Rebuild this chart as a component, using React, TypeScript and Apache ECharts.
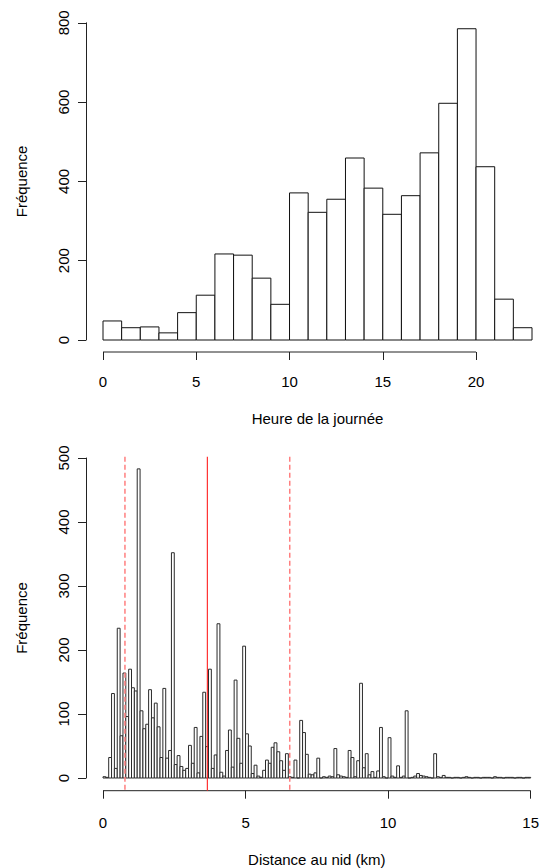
import React, { useEffect, useRef } from "react";
import * as echarts from "echarts";

// ---- Data: top histogram (hour of day, 1-hour bins starting at 0) ----
const hourCounts = [48, 31, 33, 18, 69, 113, 217, 214, 156, 90, 371, 322, 355, 459, 383, 317, 364, 472, 597, 785, 437, 103, 31];
const hourBinWidth = 1;
const hourTicks = [0, 5, 10, 15, 20];
const freqTicksTop = [0, 200, 400, 600, 800];

// ---- Data: bottom histogram (distance to nest, 0.1 km bins starting at 0) ----
const distanceCounts = [
  2, 1, 32, 132, 15, 234, 66, 164, 96, 170,
  141, 136, 483, 105, 77, 84, 138, 94, 117, 80,
  32, 140, 31, 43, 352, 21, 35, 18, 12, 15,
  51, 23, 79, 8, 65, 134, 49, 170, 15, 36,
  241, 9, 3, 43, 75, 17, 153, 62, 23, 206,
  69, 50, 7, 20, 3, 1, 12, 28, 23, 48,
  55, 41, 27, 12, 38, 2, 1, 28, 0, 90,
  71, 37, 6, 5, 8, 31, 0, 2, 1, 3,
  2, 46, 5, 3, 2, 1, 43, 32, 2, 27,
  148, 16, 38, 5, 10, 1, 11, 79, 2, 0,
  63, 3, 1, 19, 1, 3, 105, 0, 1, 3,
  7, 4, 3, 2, 1, 0, 38, 2, 1, 4,
  1, 1, 0, 1, 1, 0, 1, 2, 1, 0,
  1, 1, 0, 1, 1, 1, 0, 2, 1, 1,
  0, 1, 1, 1, 0, 1, 1, 0, 1, 1,
];
const distanceBinWidth = 0.1;
const distanceTicks = [0, 5, 10, 15];
const freqTicksBottom = [0, 100, 200, 300, 400, 500];
const distanceDashedLines = [0.77, 6.55];
const distanceSolidLines = [3.66];

const FONT = "'Liberation Sans', Arial, Helvetica, sans-serif";
const TEXT = { fontSize: 15, color: "#000", fontFamily: FONT };
const AXIS_COLOR = "#222";

const histRender = (stroke: string) => (_params: any, api: any) => {
  const x0 = api.value(0);
  const x1 = api.value(1);
  const c = api.value(2);
  const p0 = api.coord([x0, c]);
  const p1 = api.coord([x1, 0]);
  return {
    type: "rect",
    shape: { x: p0[0], y: p0[1], width: p1[0] - p0[0], height: p1[1] - p0[1] },
    style: { fill: "#fff", stroke, lineWidth: 1 },
  };
};

const axisLineRender = (offset: number) => (_params: any, api: any) => {
  const a = api.coord([api.value(0), 0]);
  const b = api.coord([api.value(1), 0]);
  return {
    type: "line",
    shape: { x1: a[0], y1: a[1] + offset, x2: b[0], y2: b[1] + offset },
    style: { stroke: AXIS_COLOR, lineWidth: 1 },
  };
};

const vLineRender = (dashed: boolean, bottomExtra: number) => (params: any, api: any) => {
  const cs = params.coordSys;
  const p = api.coord([api.value(0), 0]);
  return {
    type: "line",
    shape: { x1: p[0], y1: cs.y - 1.3, x2: p[0], y2: cs.y + cs.height + bottomExtra },
    style: dashed
      ? { stroke: "#ff7f7f", lineWidth: 1.5, lineDash: [5, 3] }
      : { stroke: "#ff2020", lineWidth: 1.1 },
  };
};

const X_OFF_TOP = 12;
const X_OFF_BOTTOM = 12.7;
const Y_OFF = 17;

function makeXAxis(
  gridIndex: number,
  max: number,
  ticks: number[],
  name: string,
  offset: number,
  labelMargin: number,
  nameGap: number
) {
  return {
    gridIndex,
    type: "value",
    min: 0,
    max,
    offset,
    // line itself drawn by a custom series (R style: spans first to last tick only)
    axisLine: { show: true, onZero: false, lineStyle: { color: "rgba(0,0,0,0)", width: 1 } },
    axisTick: { show: true, length: 8, customValues: ticks, lineStyle: { color: AXIS_COLOR, width: 1 } },
    axisLabel: { show: true, customValues: ticks, margin: labelMargin, ...TEXT },
    splitLine: { show: false },
    name,
    nameLocation: "middle",
    nameGap,
    nameTextStyle: { ...TEXT },
  };
}

function makeYAxis(gridIndex: number, max: number, ticks: number[]) {
  return {
    gridIndex,
    type: "value",
    min: 0,
    max,
    offset: Y_OFF,
    axisLine: { show: true, onZero: false, lineStyle: { color: AXIS_COLOR, width: 1 } },
    axisTick: { show: true, length: 8, customValues: ticks, lineStyle: { color: AXIS_COLOR, width: 1 } },
    axisLabel: { show: true, customValues: ticks, rotate: 90, margin: 15, ...TEXT },
    splitLine: { show: false },
    name: "Fréquence",
    nameLocation: "middle",
    nameRotate: 90,
    nameGap: 57,
    nameTextStyle: { ...TEXT },
  };
}

export default function App() {
  const ref = useRef<HTMLDivElement>(null);

  useEffect(() => {
    if (!ref.current) return;
    const chart = echarts.init(ref.current, null, { renderer: "svg" });

    const hourData = hourCounts.map((c, i) => [i * hourBinWidth, (i + 1) * hourBinWidth, c]);
    const distData = distanceCounts.map((c, i) => [
      +(i * distanceBinWidth).toFixed(2),
      +((i + 1) * distanceBinWidth).toFixed(2),
      c,
    ]);

    chart.setOption({
      animation: false,
      backgroundColor: "#fff",
      textStyle: { fontFamily: FONT },
      grid: [
        { left: 103, right: 10, top: 22.8, bottom: 528 },
        { left: 103, right: 8.5, top: 458, bottom: 90 },
      ],
      xAxis: [
        makeXAxis(0, 23, hourTicks, "Heure de la journée", X_OFF_TOP, 22, 59),
        makeXAxis(1, 15, distanceTicks, "Distance au nid (km)", X_OFF_BOTTOM, 24, 61),
      ],
      yAxis: [makeYAxis(0, 800, freqTicksTop), makeYAxis(1, 500, freqTicksBottom)],
      series: [
        {
          type: "custom",
          name: "heure",
          xAxisIndex: 0,
          yAxisIndex: 0,
          renderItem: histRender("#111"),
          encode: { x: [0, 1], y: 2 },
          data: hourData,
          silent: true,
        },
        {
          type: "custom",
          xAxisIndex: 0,
          yAxisIndex: 0,
          renderItem: axisLineRender(X_OFF_TOP),
          encode: { x: [0, 1], y: 2 },
          data: [[hourTicks[0], hourTicks[hourTicks.length - 1], 0]],
          silent: true,
        },
        {
          type: "custom",
          name: "distance",
          xAxisIndex: 1,
          yAxisIndex: 1,
          renderItem: histRender("#2a2a2a"),
          encode: { x: [0, 1], y: 2 },
          data: distData,
          silent: true,
        },
        {
          type: "custom",
          xAxisIndex: 1,
          yAxisIndex: 1,
          renderItem: axisLineRender(X_OFF_BOTTOM),
          encode: { x: [0, 1], y: 2 },
          data: [[distanceTicks[0], distanceTicks[distanceTicks.length - 1], 0]],
          silent: true,
        },
        {
          type: "custom",
          xAxisIndex: 1,
          yAxisIndex: 1,
          renderItem: vLineRender(true, X_OFF_BOTTOM),
          encode: { x: 0, y: 1 },
          data: distanceDashedLines.map((v) => [v, 0]),
          silent: true,
        },
        {
          type: "custom",
          xAxisIndex: 1,
          yAxisIndex: 1,
          renderItem: vLineRender(false, X_OFF_BOTTOM),
          encode: { x: 0, y: 1 },
          data: distanceSolidLines.map((v) => [v, 0]),
          silent: true,
        },
      ],
    });

    return () => chart.dispose();
  }, []);

  return (
    <div
      ref={ref}
      style={{ position: "absolute", left: 0, top: 0, width: 542, height: 868, background: "#fff" }}
    />
  );
}
